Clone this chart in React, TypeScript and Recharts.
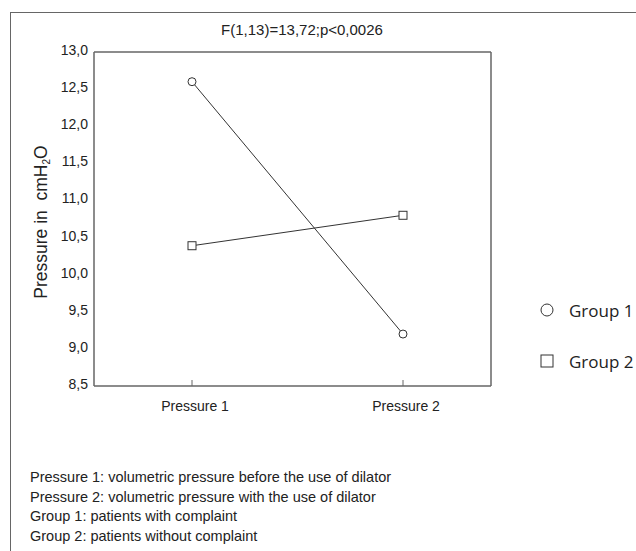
import { LineChart, Line, XAxis, YAxis } from 'recharts';

// 측정 조건 (x축)
const categories = ['Pressure 1', 'Pressure 2'];
// 그룹별 평균 압력 (cmH2O)
const group1 = [12.6, 9.2];
const group2 = [10.39, 10.8];
const groupNames = ['Group 1', 'Group 2'];
const yTicks = [8.5, 9.0, 9.5, 10.0, 10.5, 11.0, 11.5, 12.0, 12.5, 13.0];
const title = 'F(1,13)=13,72;p<0,0026';
const notes = [
    'Pressure 1: volumetric pressure before the use of dilator',
    'Pressure 2: volumetric pressure with the use of dilator',
    'Group 1: patients with complaint',
    'Group 2: patients without complaint',
];

const data = categories.map((c, i) => ({ cat: c, g1: group1[i], g2: group2[i] }));

const INK = '#333';
const AXIS = '#666';
const ARIAL = '"Liberation Sans", Arial, sans-serif';

const fmt = (v: number) => v.toFixed(1).replace('.', ',');

const CircleDot = (props: any) => {
    const { cx, cy } = props;
    if (cx == null || cy == null) return null;
    return <circle cx={cx} cy={cy} r={4} fill="#fff" stroke={INK} strokeWidth={1} />;
};

const SquareDot = (props: any) => {
    const { cx, cy } = props;
    if (cx == null || cy == null) return null;
    return <rect x={cx - 4} y={cy - 4} width={8} height={8} fill="#fff" stroke={INK} strokeWidth={1} />;
};

const YTick = (props: any) => {
    const { x, y, payload } = props;
    return (
        <text x={x} y={y} dy={-2} textAnchor="end" dominantBaseline="central" fontSize={14} fill="#222" fontFamily={ARIAL}>
            {fmt(payload.value)}
        </text>
    );
};

const XTick = (props: any) => {
    const { x, y, payload } = props;
    return (
        <text x={x + 3} y={y} textAnchor="middle" dominantBaseline="central" fontSize={14} fill="#222" fontFamily={ARIAL}>
            {payload.value}
        </text>
    );
};

const YLabel = (props: any) => {
    const { viewBox } = props;
    const cx = 41;
    const cy = viewBox.y + viewBox.height / 2 + 3;
    return (
        <text
            x={cx}
            y={cy}
            transform={`rotate(-90, ${cx}, ${cy})`}
            textAnchor="middle"
            dominantBaseline="central"
            fontSize={17.5}
            fill="#222"
            fontFamily={ARIAL}
            style={{ whiteSpace: 'pre' }}
        >
            {'Pressure in  cmH'}
            <tspan fontSize={10} dy={5}>2</tspan>
            <tspan dy={-5}>O</tspan>
        </text>
    );
};

const LegendBox = () => (
    <div style={{ position: 'absolute', left: 540, top: 298, fontFamily: '"Open Sans", sans-serif', fontSize: 17, color: '#222' }}>
        {groupNames.map((name, i) => (
            <div key={name} style={{ display: 'flex', alignItems: 'center', height: 24, marginBottom: i === 0 ? 27 : 0 }}>
                <svg width={14} height={14} style={{ marginRight: 15 }}>
                    {i === 0 ? (
                        <circle cx={7} cy={7} r={6} fill="#fff" stroke={INK} strokeWidth={1} />
                    ) : (
                        <rect x={1} y={1} width={12} height={12} fill="#fff" stroke={INK} strokeWidth={1} />
                    )}
                </svg>
                <span>{name}</span>
            </div>
        ))}
    </div>
);

export default function App() {
    return (
        <div style={{ position: 'absolute', left: 0, top: 0, width: 636, height: 551, background: '#fff', overflow: 'hidden' }}>
            {/* 바깥 테두리 (왼쪽/위쪽만 보임) */}
            <div style={{ position: 'absolute', left: 10, top: 12, width: 640, height: 560, borderLeft: `1.5px solid ${AXIS}`, borderTop: `1.5px solid ${AXIS}` }} />
            <div style={{ position: 'absolute', left: 202, top: 21, width: 200, textAlign: 'center', fontFamily: ARIAL, fontSize: 15, color: '#222', lineHeight: '18px' }}>
                {title}
            </div>
            <div style={{ position: 'absolute', left: 0, top: 0 }}>
                <LineChart width={636} height={551} data={data} margin={{ top: 51, right: 144, bottom: 125, left: 34 }}>
                    <XAxis
                        dataKey="cat"
                        height={40}
                        padding={{ left: 98, right: 88 }}
                        axisLine={{ stroke: AXIS, strokeWidth: 1.5 }}
                        tickLine={{ stroke: AXIS, strokeWidth: 1 }}
                        tickSize={-6}
                        tickMargin={26}
                        tick={<XTick />}
                    />
                    <XAxis
                        xAxisId="top"
                        dataKey="cat"
                        orientation="top"
                        height={1}
                        tick={false}
                        tickLine={false}
                        axisLine={{ stroke: AXIS, strokeWidth: 1.5 }}
                    />
                    <YAxis
                        type="number"
                        domain={[8.5, 13]}
                        ticks={yTicks}
                        width={60}
                        axisLine={{ stroke: AXIS, strokeWidth: 1.5 }}
                        tickLine={false}
                        tickSize={0}
                        tickMargin={6}
                        tick={<YTick />}
                        label={<YLabel />}
                    />
                    <YAxis
                        yAxisId="right"
                        orientation="right"
                        domain={[8.5, 13]}
                        width={1}
                        tick={false}
                        tickLine={false}
                        axisLine={{ stroke: AXIS, strokeWidth: 1.5 }}
                    />
                    <Line
                        name={groupNames[0]}
                        dataKey="g1"
                        stroke={INK}
                        strokeWidth={1}
                        dot={<CircleDot />}
                        activeDot={false}
                        isAnimationActive={false}
                    />
                    <Line
                        name={groupNames[1]}
                        dataKey="g2"
                        stroke={INK}
                        strokeWidth={1}
                        dot={<SquareDot />}
                        activeDot={false}
                        isAnimationActive={false}
                    />
                </LineChart>
            </div>
            <LegendBox />
            {/* 하단 주석 */}
            <div style={{ position: 'absolute', left: 30, top: 468, fontFamily: ARIAL, fontSize: 14.5, color: '#222', lineHeight: '19.5px' }}>
                {notes.map(n => (
                    <div key={n}>{n}</div>
                ))}
            </div>
        </div>
    );
}
